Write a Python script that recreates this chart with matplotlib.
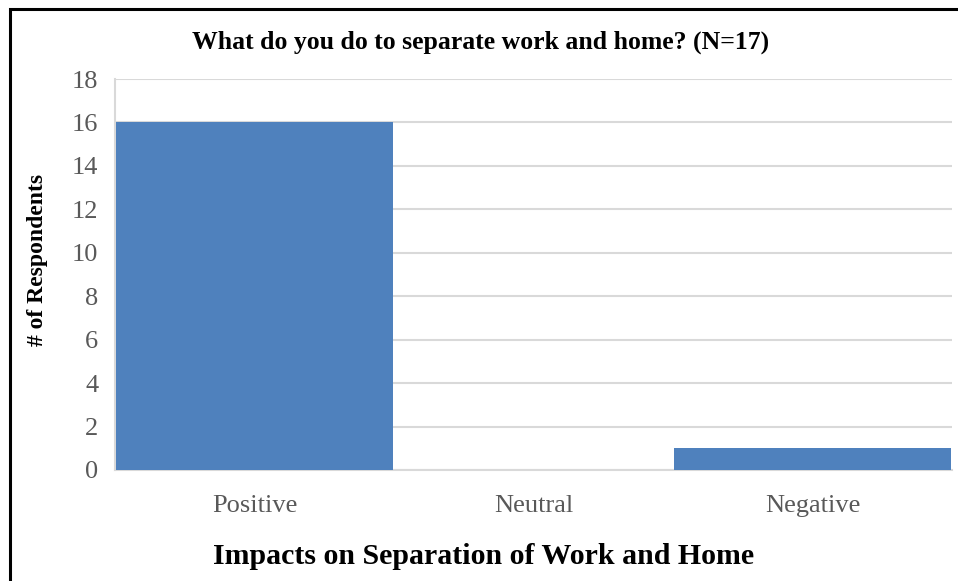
import matplotlib.pyplot as plt
from matplotlib.patches import Rectangle

# survey counts
categories = ["Positive", "Neutral", "Negative"]
counts = [16, 0, 1]

plt.rcParams['font.family'] = ['Liberation Serif', 'DejaVu Serif']

fig = plt.figure(figsize=(9.58, 5.81), dpi=100)
ax = fig.add_axes([115 / 958, 1 - 470 / 581, (952 - 115) / 958, (470 - 79) / 581])

ax.bar(range(len(categories)), counts, width=0.99, color="#4f81bd", zorder=3)

ax.set_xlim(-0.5, len(categories) - 0.5)
ax.set_ylim(0, 18)
ax.set_yticks(range(0, 19, 2))
ax.set_xticks(range(len(categories)))
ax.set_xticklabels(categories)
ax.tick_params(axis="both", length=0, labelsize=19, labelcolor="#595959")
ax.tick_params(axis="y", pad=12)
ax.tick_params(axis="x", pad=18)

ax.yaxis.grid(True, color="#d9d9d9", linewidth=1.5, zorder=0)
for side in ["top", "right"]:
    ax.spines[side].set_visible(False)
for side in ["left", "bottom"]:
    ax.spines[side].set_color("#d9d9d9")
    ax.spines[side].set_linewidth(1.5)

ax.set_xlabel("Impacts on Separation of Work and Home", fontsize=21.5,
              fontweight="bold")
ax.xaxis.set_label_coords((484 - 115) / 837, -(557 - 470) / 391)
ax.xaxis.label.set_va("center")
ax.set_ylabel("# of Respondents", fontsize=17, fontweight="bold")
ax.yaxis.set_label_coords(-(115 - 38) / 837, (470 - 260) / 391)
ax.yaxis.label.set_va("center")
fig.text(481 / 958, 1 - 42 / 581, "What do you do to separate work and home? (N=17)",
         ha="center", va="center", fontsize=18.5, fontweight="bold")

# black frame around the chart, running off the right and bottom edges
fig.patches.append(Rectangle((9.5 / 958, -0.1), 1.2, 1.1 - 9.5 / 581,
                             transform=fig.transFigure, fill=False,
                             edgecolor="black", linewidth=2.2))

fig.savefig("out.png", dpi=100)
